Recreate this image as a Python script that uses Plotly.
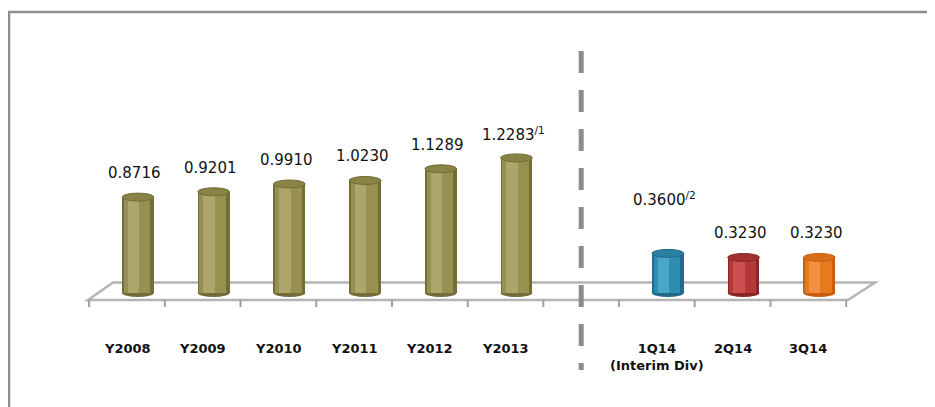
import plotly.graph_objects as go

# ---------------- data ----------------
categories = ["Y2008", "Y2009", "Y2010", "Y2011", "Y2012", "Y2013", "", "1Q14", "2Q14", "3Q14"]
values = [0.8716, 0.9201, 0.9910, 1.0230, 1.1289, 1.2283, None, 0.3600, 0.3230, 0.3230]
value_labels = ["0.8716", "0.9201", "0.9910", "1.0230", "1.1289", "1.2283<sup>/1</sup>",
                "", "0.3600<sup>/2</sup>", "0.3230", "0.3230"]
tick_labels = ["Y2008", "Y2009", "Y2010", "Y2011", "Y2012", "Y2013", "",
               "1Q14<br>(Interim Div)", "2Q14", "3Q14"]
bar_colors = ["olive"] * 6 + [None] + ["blue", "red", "orange"]
divider_slot = 6

# ---------------- style ----------------
PAGE_OFF = 8                     # default body margin of the html page
W, H = 935 - PAGE_OFF, 407 - PAGE_OFF
PX_X = 75.7      # px per category slot
X0_PX = 127      # page px of slot 0 centre
PX_Y = 110       # px per unit of value
Y0_PX = 293      # page px of value 0

def dx(px):
    return (px - X0_PX) / PX_X

def dy(px):
    return (Y0_PX - px) / PX_Y

palettes = {
    "olive": ("#736d38", "#979050", "#ada66c", "#8a8346"),
    "blue": ("#22698a", "#2f8db0", "#4aa7c8", "#2b80a0"),
    "red": ("#8a2626", "#b43838", "#cb5050", "#a23030"),
    "orange": ("#c75e12", "#e8791d", "#f49043", "#da6d18"),
}
BAR_SHIFT = 0.145
BAR_W = 0.42
CAP_H = 4.0 / PX_Y
FONT = "DejaVu Sans"
label_lift = {7: 30}

idx = [i for i, v in enumerate(values) if v is not None]
xs = [i + BAR_SHIFT for i in idx]
ys = [values[i] for i in idx]

fig = go.Figure()
layers = [(BAR_W, 0.0, 0), (BAR_W * 0.84, -0.012, 1), (BAR_W * 0.36, -0.06, 2)]
for w, sh, k in layers:
    fig.add_trace(go.Bar(
        x=[x + sh for x in xs], y=ys, width=w,
        marker=dict(color=[palettes[bar_colors[i]][k] for i in idx], line=dict(width=0)),
        hoverinfo="skip", showlegend=False,
    ))

shapes = []
# frame (top and left border)
shapes.append(dict(type="line", xref="x", yref="y", x0=dx(8), x1=dx(940), y0=dy(12), y1=dy(12),
                   line=dict(color="#8e8e8e", width=2.5), layer="below"))
shapes.append(dict(type="line", xref="x", yref="y", x0=dx(9), x1=dx(9), y0=dy(12), y1=dy(412),
                   line=dict(color="#8e8e8e", width=2.5), layer="below"))
# floor
fl, fr, bl, br = dx(88), dx(848), dx(113), dx(875)
yf, yb = dy(300), dy(282.5)
shapes.append(dict(type="path", xref="x", yref="y",
                   path=f"M {fl},{yf} L {fr},{yf} L {br},{yb} L {bl},{yb} Z",
                   line=dict(color="#b4b4b4", width=2.5), fillcolor="rgba(0,0,0,0)", layer="below"))
for b in range(len(categories) + 1):
    xb = b - 0.5
    shapes.append(dict(type="line", xref="x", yref="y", x0=xb, x1=xb, y0=yf, y1=dy(307),
                       line=dict(color="#a0a0a0", width=2), layer="below"))
# bar bottoms and tops (cylinder caps)
for i in idx:
    c = palettes[bar_colors[i]]
    xc = i + BAR_SHIFT
    shapes.append(dict(type="circle", xref="x", yref="y", x0=xc - BAR_W / 2, x1=xc + BAR_W / 2,
                       y0=-CAP_H, y1=CAP_H, fillcolor=c[0], line=dict(width=0), layer="below"))
    shapes.append(dict(type="circle", xref="x", yref="y", x0=xc - BAR_W / 2, x1=xc + BAR_W / 2,
                       y0=values[i] - CAP_H, y1=values[i] + CAP_H, fillcolor=c[3],
                       line=dict(color=c[0], width=1), layer="above"))
# divider
shapes.append(dict(type="line", xref="x", yref="y", x0=divider_slot, x1=divider_slot,
                   y0=dy(51), y1=dy(370), line=dict(color="#8c8c8c", width=5, dash="22px,17px")))

annotations = []
for i in idx:
    annotations.append(dict(x=i + BAR_SHIFT - 0.04, y=values[i], xref="x", yref="y",
                            text=value_labels[i], showarrow=False, yanchor="middle",
                            yshift=24 + label_lift.get(i, 0),
                            font=dict(family=FONT, size=15, color="#111111")))
for i, t in enumerate(tick_labels):
    if not t:
        continue
    annotations.append(dict(x=i, y=dy(339), xref="x", yref="y", text=t, showarrow=False,
                            yanchor="top",
                            font=dict(family=FONT, size=13, color="#111111", weight="bold")))

fig.update_layout(
    width=W, height=H, margin=dict(l=0, r=0, t=0, b=0),
    paper_bgcolor="white", plot_bgcolor="white",
    barmode="overlay", bargap=0,
    xaxis=dict(range=[dx(PAGE_OFF), dx(PAGE_OFF + W)], visible=False, fixedrange=True),
    yaxis=dict(range=[dy(PAGE_OFF + H), dy(PAGE_OFF)], visible=False, fixedrange=True),
    shapes=shapes, annotations=annotations,
)
fig.write_html("out.html")
